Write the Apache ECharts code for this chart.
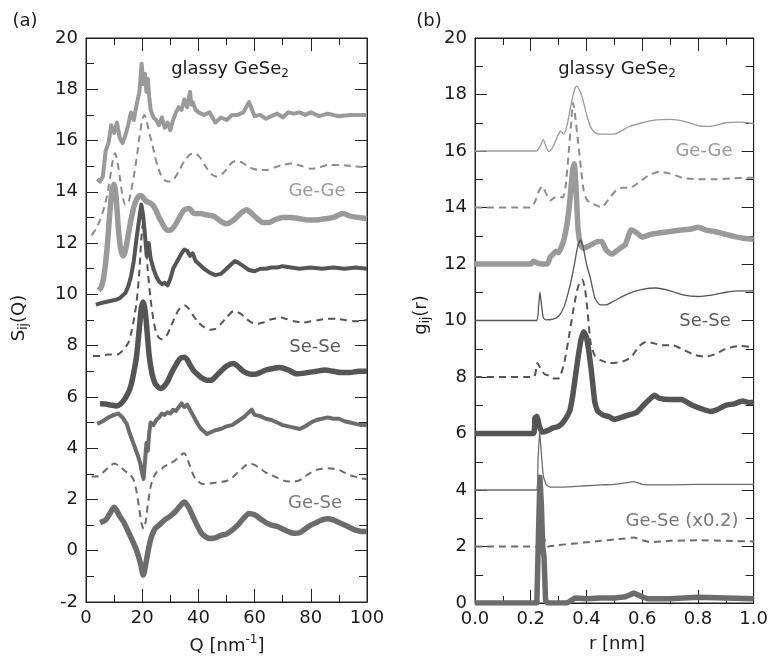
<!DOCTYPE html>
<html><head><meta charset="utf-8">
<script src="https://cdn.jsdelivr.net/npm/echarts@6/dist/echarts.min.js"></script>
<style>html,body{margin:0;padding:0;background:#fff}#c{width:771px;height:659px}</style>
</head><body><div id="c"></div>
<script>
// ---------- Panel (a): S_ij(Q) ----------
const qGeGeExp = [4,5,6,7,8,9,10,11,12,13,14,15,16,17,18,19,19.8,20.3,21,21.5,22,22.5,23,24,25,26,27,28,29,30,31,32,33,34,35,36,37,37.5,38,39,40,42,44,46,48,50,52,54,56,57,58,60,62,64,66,68,70,72,74,76,78,80,83,86,90,94,97,100];
const sGeGeExp = [14.5,14.4,14.6,15.6,15.9,16.6,16.3,16.7,16.1,15.9,16.2,16.6,17.1,16.8,17.4,17.9,19.0,18.2,18.6,17.9,18.4,17.7,17.2,16.9,16.8,16.6,16.9,16.5,16.7,16.4,16.8,17.1,17.3,17.2,17.6,17.3,17.9,17.4,17.5,17.2,17.1,17.0,17.1,16.7,16.9,16.8,17.0,17.0,17.1,17.3,17.5,16.95,17.0,16.85,16.95,17.05,16.9,17.1,17.05,17.1,17.0,17.1,16.95,17.05,16.95,17.0,17.0,17.0];
const qGeGeTh = [2,3.5,5,6.5,7.5,8.5,9.5,10.3,11,12,13,14,15,16,17,18,19,20,20.8,21.5,22.5,23.5,24.5,25.5,26.5,28,29.5,31,33,35,37,38.8,40.5,42.5,44.5,46.5,48.5,50.5,52,53.6,55.5,57.5,59.5,61.5,64,67,70,73.5,77,80,83,86,90,95,100];
const sGeGeTh = [12.3,12.55,12.9,13.4,13.85,14.5,15.2,15.5,15.3,14.6,13.85,13.5,13.55,14.0,14.6,15.3,16.1,16.8,17.0,16.8,16.3,15.9,15.4,15.0,14.7,14.45,14.4,14.45,14.8,15.2,15.45,15.5,15.35,15.0,14.7,14.6,14.7,14.95,15.15,15.2,15.15,15.0,14.9,14.85,14.85,14.95,15.05,15.1,15.0,14.9,14.95,15.05,15.05,15.0,14.95];
const qGeGeS = [4.5,5.5,6.5,7.5,8.5,9.3,10,10.7,11.5,12.3,13.2,14,15,16,17,18,19,19.8,20.8,22,23,24,25,26,27,28,29,30,31,32,33,34,35,36.7,38.5,40.5,43,45.5,48,50,52,54,55.5,57.2,59,61,63,65,67,70,73,76,79,82,85,88,91.5,94,97,100];
const sGeGeS = [10.15,10.3,10.8,11.8,13.2,14.1,14.3,13.8,12.6,11.8,11.5,11.7,12.3,12.9,13.4,13.7,13.85,13.85,13.7,13.6,13.55,13.45,13.25,13.0,12.8,12.6,12.5,12.5,12.6,12.75,12.95,13.15,13.3,13.35,13.15,13.15,13.1,13.05,12.85,12.75,12.85,13.05,13.2,13.3,13.15,12.95,12.8,12.8,12.9,13.0,13.0,12.95,12.9,12.9,12.95,13.0,13.15,13.05,13.0,12.95];
const qSeSeExp = [3.5,5,7,9,11,12,13,14,15,16,17,18,19,19.7,20.3,21,21.6,22.3,23,24,25,26,27,28,29,30,31,32,33,34,35,36,37,38,39,40,42,44,46,48,50,52,53,54,56,58,60,62,64,66,68,70,73,76,80,84,88,92,96,100];
const sSeSeExp = [9.6,9.65,9.7,9.75,9.8,9.85,9.95,10.05,10.3,10.7,11.3,12.2,13.0,13.5,13.1,12.3,11.5,12.0,11.4,11.0,10.7,10.5,10.4,10.45,10.35,10.6,11.0,11.2,11.4,11.6,11.75,11.7,11.5,11.6,11.3,11.2,11.0,10.85,10.75,10.8,11.0,11.2,11.3,11.25,11.1,10.95,10.9,11.0,11.0,11.05,11.05,11.1,11.05,11.0,11.05,11.0,11.05,11.0,11.05,11.0];
const qSeSeTh = [2.5,5,8,11,13,15,16,17,18,19,19.7,20.4,21.1,22,23,24,25,26,27,28,29,30,31,32,33,34,35.2,36.5,38,40,42,44,46,48,50,52.6,55,57,59,61,63,65,67,69,71,74,77,80,83,86,89,92,96,100];
const sSeSeTh = [7.6,7.6,7.65,7.65,7.8,8.1,8.45,9.0,9.7,10.9,12.2,12.8,12.2,10.9,9.8,9.0,8.5,8.3,8.25,8.3,8.45,8.7,8.95,9.2,9.4,9.52,9.57,9.45,9.2,8.9,8.72,8.62,8.65,8.85,9.1,9.35,9.25,9.05,8.9,8.85,8.9,9.0,9.05,9.1,9.05,8.95,8.9,8.95,9.0,9.05,9.05,9.0,8.95,9.0];
const qSeSeS = [5,7,9,11,13,15,16,17,18,19,19.7,20.4,21,21.7,22.5,23.5,24.5,25.5,26.5,27.5,29,30.5,32,33.5,35,36,37,38.5,40,41.5,43,44.5,46,48,50,52.4,54,56,58,60,62,64,66,69,72,75,79,82,85,88,91,94,97,100];
const sSeSeS = [5.73,5.72,5.68,5.65,5.8,6.15,6.45,6.95,7.6,8.7,9.5,9.7,9.4,8.6,7.6,6.9,6.55,6.4,6.33,6.38,6.6,6.95,7.25,7.5,7.55,7.45,7.25,7.0,6.85,6.72,6.65,6.65,6.78,7.0,7.2,7.3,7.2,7.0,6.9,6.88,6.95,7.05,7.1,7.15,7.05,6.9,6.95,7.0,7.05,7.0,6.95,6.95,7.0,7.0];
const qGeSeExp = [4,6,8,10,11.5,13,14.5,15.5,16.5,17.5,18.5,19.3,20,20.5,21,21.5,22,22.5,23,24,25,26,27,28,29,30,31,32,33,34,35,36,37,38,39,40,41,42,43,44,46,48,50,52,54,56,57,58,59,60,62,64,66,68,70,72,74,76,78,80,82,84,86,88,90,92,94,96,98,100];
const sGeSeExp = [4.95,5.05,5.2,5.3,5.35,5.2,4.95,4.6,4.3,4.0,3.7,3.4,3.0,2.8,3.5,4.2,3.9,4.6,5.0,4.9,5.1,5.2,5.35,5.3,5.4,5.35,5.5,5.45,5.6,5.75,5.6,5.7,5.5,5.3,5.1,4.9,4.75,4.65,4.55,4.6,4.7,4.75,4.85,4.9,5.05,5.2,5.3,5.4,5.5,5.3,5.25,5.15,5.1,5.0,4.9,4.85,4.8,4.75,4.85,5.0,5.1,5.15,5.2,5.15,5.15,5.05,5.0,4.95,4.9,4.9];
const qGeSeTh = [2,4,6,8,10,12,14,15.5,17,18,19,19.8,20.5,21.2,22,23,24,25,26,27,28,30,32,34,35,36,37,38,39,40,41,42,44,46,48,50,52,54,56,58,60,62,64,66,68,70,72,74,76,78,80,82,84,86,88,90,92,94,96,98,100];
const sGeSeTh = [2.9,2.9,3.05,3.25,3.4,3.3,3.1,3.0,2.75,2.3,1.6,1.05,0.85,1.1,1.8,2.5,2.85,3.05,3.15,3.2,3.3,3.4,3.55,3.75,3.8,3.6,3.3,3.0,2.8,2.7,2.62,2.6,2.62,2.65,2.68,2.72,2.85,3.05,3.25,3.4,3.35,3.2,3.05,2.95,2.85,2.75,2.7,2.7,2.75,2.9,3.05,3.15,3.2,3.22,3.2,3.15,3.05,2.95,2.88,2.82,2.8];
const qGeSeS = [5,7,8.5,10,11,12,13.5,15,16.5,17.5,18.5,19.5,20.4,21.3,22.3,23.3,24.5,26,28,30,32,33.5,35,36.5,38,39.5,41,42.5,44,46,48,50,52,54,56,58,60,62,64,66,68,70,72,74,76,78,80,82,84,86,88,90,92,94,96,98,100];
const sGeSeS = [1.1,1.2,1.45,1.7,1.55,1.35,1.1,0.75,0.4,0.15,-0.15,-0.55,-0.95,-0.5,0.1,0.55,0.85,1.0,1.2,1.35,1.55,1.75,1.9,1.7,1.35,1.0,0.7,0.55,0.48,0.5,0.6,0.65,0.8,1.0,1.25,1.45,1.4,1.25,1.1,1.0,0.95,0.85,0.75,0.68,0.7,0.85,1.0,1.1,1.2,1.25,1.2,1.1,1.0,0.9,0.8,0.75,0.75];

// ---------- Panel (b): g_ij(r) ----------
const rGeGeThin = [0,0.22,0.235,0.245,0.255,0.265,0.28,0.295,0.307,0.318,0.33,0.34,0.35,0.36,0.366,0.375,0.385,0.4,0.415,0.43,0.45,0.5,0.55,0.6,0.65,0.7,0.75,0.8,0.83,0.86,0.9,0.95,1.0];
const gGeGeThin = [16.0,16.0,16.2,16.4,16.15,15.98,16.15,16.5,16.7,16.6,16.9,17.4,17.9,18.25,18.3,18.15,17.9,17.3,16.85,16.65,16.6,16.6,16.85,17.0,17.1,17.12,17.05,16.9,16.87,16.9,17.0,17.02,16.97];
const rGeGeDash = [0,0.2,0.215,0.23,0.242,0.255,0.27,0.285,0.3,0.315,0.325,0.335,0.345,0.352,0.36,0.37,0.38,0.39,0.4,0.414,0.43,0.454,0.48,0.508,0.53,0.556,0.59,0.625,0.662,0.7,0.745,0.8,0.86,0.92,0.98,1.0];
const gGeGeDash = [14.0,14.0,14.2,14.6,14.75,14.5,14.25,14.35,14.4,14.35,14.75,15.8,17.0,17.7,17.2,16.3,15.4,14.6,14.3,14.15,14.1,14.0,14.3,14.62,14.7,14.7,14.9,15.15,15.27,15.2,15.05,15.0,15.0,15.03,15.05,15.05];
const rGeGeThick = [0,0.2,0.21,0.22,0.24,0.26,0.27,0.28,0.29,0.3,0.31,0.32,0.33,0.34,0.35,0.356,0.362,0.37,0.38,0.39,0.4,0.42,0.44,0.455,0.47,0.49,0.5,0.52,0.54,0.56,0.58,0.6,0.63,0.66,0.7,0.74,0.78,0.8,0.83,0.86,0.9,0.94,0.97,1.0];
const gGeGeThick = [12.0,12.0,12.1,12.05,12.0,12.0,12.25,12.35,12.45,12.4,12.6,12.9,13.4,14.2,15.3,15.55,14.8,13.2,12.65,12.55,12.6,12.7,12.8,12.8,12.5,12.35,12.4,12.55,12.7,13.2,13.1,12.95,13.05,13.1,13.15,13.2,13.25,13.3,13.2,13.15,13.05,12.95,12.9,12.88];
const rSeSeThin = [0,0.22,0.228,0.233,0.238,0.245,0.255,0.28,0.3,0.32,0.34,0.355,0.368,0.378,0.388,0.4,0.414,0.43,0.45,0.47,0.5,0.55,0.6,0.65,0.7,0.75,0.8,0.85,0.9,0.95,1.0];
const gSeSeThin = [10.0,10.0,10.5,11.0,10.6,10.1,10.02,10.05,10.15,10.5,11.2,11.9,12.6,12.85,12.6,12.0,11.5,10.8,10.55,10.55,10.7,10.95,11.1,11.15,11.05,10.9,10.85,10.9,11.0,11.05,11.05];
const rSeSeDash = [0,0.21,0.224,0.235,0.25,0.265,0.28,0.3,0.32,0.34,0.355,0.37,0.385,0.395,0.405,0.415,0.43,0.45,0.48,0.5,0.53,0.56,0.59,0.615,0.64,0.67,0.71,0.75,0.79,0.826,0.86,0.9,0.95,1.0];
const gSeSeDash = [8.0,8.0,8.5,8.3,8.1,8.05,7.95,7.95,8.5,9.6,10.5,11.2,11.45,11.1,10.2,9.2,8.75,8.6,8.5,8.5,8.55,8.7,9.1,9.25,9.2,9.12,9.12,8.95,8.78,8.72,8.8,9.0,9.1,9.05];
const rSeSeThick = [0,0.21,0.215,0.222,0.23,0.24,0.26,0.28,0.3,0.32,0.34,0.35,0.36,0.37,0.38,0.39,0.4,0.41,0.42,0.43,0.44,0.46,0.48,0.5,0.52,0.55,0.58,0.6,0.62,0.644,0.66,0.7,0.74,0.78,0.82,0.845,0.87,0.9,0.93,0.96,0.98,1.0];
const gSeSeThick = [6.0,6.0,6.55,6.6,6.3,6.05,6.1,6.2,6.25,6.45,6.8,7.3,8.0,8.7,9.3,9.6,9.4,8.8,8.0,7.1,6.8,6.65,6.6,6.5,6.55,6.65,6.75,6.95,7.15,7.35,7.25,7.2,7.2,7.0,6.85,6.78,6.85,7.0,7.05,7.15,7.1,7.1];
const rGeSeThin = [0,0.22,0.226,0.232,0.238,0.245,0.255,0.27,0.3,0.35,0.4,0.45,0.5,0.54,0.57,0.6,0.65,0.7,0.8,0.9,1.0];
const gGeSeThin = [4.0,4.0,5.0,6.1,5.3,4.5,4.2,4.1,4.1,4.12,4.15,4.18,4.2,4.25,4.3,4.2,4.18,4.18,4.2,4.2,4.2];
const rGeSeDash = [0,0.22,0.227,0.233,0.24,0.248,0.26,0.3,0.35,0.4,0.45,0.5,0.54,0.57,0.6,0.63,0.7,0.8,0.9,1.0];
const gGeSeDash = [2.0,2.0,3.0,4.3,3.2,2.3,2.0,2.05,2.1,2.15,2.2,2.25,2.28,2.32,2.22,2.15,2.2,2.22,2.2,2.18];
const rGeSeThick = [0,0.222,0.228,0.233,0.238,0.243,0.248,0.253,0.26,0.3,0.33,0.35,0.36,0.4,0.45,0.5,0.54,0.57,0.6,0.62,0.7,0.8,0.9,1.0];
const gGeSeThick = [0,0,2.5,4.45,3.5,2.0,1.6,0.1,0,0,0,0.12,0.18,0.15,0.18,0.18,0.22,0.35,0.22,0.15,0.15,0.2,0.18,0.15];

const FONT = 'DejaVu Sans';
const C_GEGE = '#9a9a9a', C_GEGE_D = '#8c8c8c', C_SESE = '#555555', C_GESE = '#6c6c6c';
const AX = '#222';
const DASH = [7, 5];

function pts(xs, ys) { return xs.map((x, i) => [x, ys[i]]); }

function xAx(grid, min, max, interval, pos, showLabel, fmt) {
  return {
    type: 'value', gridIndex: grid, min, max, interval, position: pos,
    axisLine: { show: true, onZero: false, lineStyle: { color: AX, width: 1 } },
    axisTick: { show: true, inside: true, length: 13, lineStyle: { color: AX, width: 1 } },
    minorTick: { show: true, splitNumber: 2, length: 7, lineStyle: { color: AX, width: 1 } },
    splitLine: { show: false }, minorSplitLine: { show: false },
    axisLabel: { show: showLabel, fontFamily: FONT, fontSize: 18, color: '#1a1a1a', margin: 7,
      formatter: fmt, showMinLabel: true, showMaxLabel: true }
  };
}
function yAx(grid, min, max, interval, pos, showLabel) {
  return {
    type: 'value', gridIndex: grid, min, max, interval, position: pos,
    axisLine: { show: true, onZero: false, lineStyle: { color: AX, width: 1 } },
    axisTick: { show: true, inside: true, length: 12, lineStyle: { color: AX, width: 1 } },
    minorTick: { show: true, splitNumber: 2, length: 8, lineStyle: { color: AX, width: 1 } },
    splitLine: { show: false }, minorSplitLine: { show: false },
    axisLabel: { show: showLabel, fontFamily: FONT, fontSize: 18, color: '#1a1a1a', margin: 8,
      showMinLabel: true, showMaxLabel: true }
  };
}
function ser(name, xs, ys, grid, color, width, type, smooth) {
  return {
    name, type: 'line', xAxisIndex: grid * 2, yAxisIndex: grid * 2,
    data: pts(xs, ys), showSymbol: false, symbol: 'none', smooth: smooth || false,
    lineStyle: { color, width, type: type || 'solid', cap: 'butt', join: 'round' },
    emphasis: { disabled: true }, silent: true, animation: false, z: 3
  };
}
function txt(x, y, text, color, rich, rotation) {
  const st = { text, fill: color, fontFamily: FONT, fontSize: 18,
    align: 'center', verticalAlign: 'middle', textAlign: 'center', textVerticalAlign: 'middle' };
  if (rich) st.rich = rich;
  return { type: 'text', x, y, rotation: rotation || 0, style: st, z: 10, silent: true };
}
const richSub = {
  m: { fontFamily: FONT, fontSize: 18, lineHeight: 22, fill: '#1a1a1a', color: '#1a1a1a' },
  s: { fontFamily: FONT, fontSize: 12, lineHeight: 12, verticalAlign: 'bottom', fill: '#1a1a1a', color: '#1a1a1a' }
};
const richSup = {
  m: { fontFamily: FONT, fontSize: 18, lineHeight: 24, fill: '#1a1a1a', color: '#1a1a1a' },
  s: { fontFamily: FONT, fontSize: 12, lineHeight: 12, verticalAlign: 'top', fill: '#1a1a1a', color: '#1a1a1a' }
};

const chart = echarts.init(document.getElementById('c'), null, { renderer: 'canvas' });
chart.setOption({
  backgroundColor: '#fff',
  animation: false,
  grid: [
    { left: 86, top: 38, width: 281, height: 564, show: true, borderColor: AX, borderWidth: 1, backgroundColor: 'transparent' },
    { left: 475, top: 38, width: 282, height: 565, show: true, borderColor: AX, borderWidth: 1, backgroundColor: 'transparent' }
  ],
  xAxis: [
    xAx(0, 0, 100, 20, 'bottom', true),
    xAx(0, 0, 100, 20, 'top', false),
    xAx(1, 0, 1, 0.2, 'bottom', true, v => v.toFixed(1)),
    xAx(1, 0, 1, 0.2, 'top', false)
  ],
  yAxis: [
    yAx(0, -2, 20, 2, 'left', true),
    yAx(0, -2, 20, 2, 'right', false),
    yAx(1, 0, 20, 2, 'left', true),
    yAx(1, 0, 20, 2, 'right', false)
  ],
  series: [
    ser('GeGe theory', qGeGeTh, sGeGeTh, 0, C_GEGE_D, 2, DASH, 0.25),
    ser('GeGe exp', qGeGeExp, sGeGeExp, 0, C_GEGE, 4),
    ser('GeGe fit', qGeGeS, sGeGeS, 0, C_GEGE, 5.5, 'solid', 0.25),
    ser('SeSe theory', qSeSeTh, sSeSeTh, 0, C_SESE, 2, DASH, 0.25),
    ser('SeSe fit', qSeSeS, sSeSeS, 0, C_SESE, 5.5, 'solid', 0.25),
    ser('SeSe exp', qSeSeExp, sSeSeExp, 0, C_SESE, 4),
    ser('GeSe theory', qGeSeTh, sGeSeTh, 0, C_GESE, 2, DASH, 0.25),
    ser('GeSe fit', qGeSeS, sGeSeS, 0, C_GESE, 5.5, 'solid', 0.25),
    ser('GeSe exp', qGeSeExp, sGeSeExp, 0, C_GESE, 4),

    ser('g GeGe thin', rGeGeThin, gGeGeThin, 1, C_GEGE, 1.3, 'solid', 0.2),
    ser('g GeGe dash', rGeGeDash, gGeGeDash, 1, C_GEGE_D, 2, DASH, 0.2),
    ser('g GeGe thick', rGeGeThick, gGeGeThick, 1, C_GEGE, 5.5, 'solid', 0.15),
    ser('g SeSe thin', rSeSeThin, gSeSeThin, 1, C_SESE, 1.3, 'solid', 0.2),
    ser('g SeSe dash', rSeSeDash, gSeSeDash, 1, C_SESE, 2, DASH, 0.2),
    ser('g SeSe thick', rSeSeThick, gSeSeThick, 1, C_SESE, 5.5, 'solid', 0.15),
    ser('g GeSe thin', rGeSeThin, gGeSeThin, 1, C_GESE, 1.3, 'solid', 0.1),
    ser('g GeSe dash', rGeSeDash, gGeSeDash, 1, C_GESE, 2, DASH, 0.1),
    ser('g GeSe thick', rGeSeThick, gGeSeThick, 1, C_GESE, 5.5, 'solid', 0)
  ],
  graphic: [
    txt(25, 21, '(a)', '#1a1a1a'),
    txt(429, 21, '(b)', '#1a1a1a'),
    txt(230, 69, '{m|glassy GeSe}{s|2}', '#1a1a1a', richSub),
    txt(617, 69, '{m|glassy GeSe}{s|2}', '#1a1a1a', richSub),
    txt(317, 191, 'Ge-Ge', C_GEGE),
    txt(315, 347, 'Se-Se', '#5a5a5a'),
    txt(315, 503, 'Ge-Se', '#777777'),
    txt(704, 151, 'Ge-Ge', C_GEGE),
    txt(705, 321, 'Se-Se', '#5a5a5a'),
    txt(682, 521, 'Ge-Se (x0.2)', '#777777'),
    txt(227, 646, '{m|Q [nm}{s|-1}{m|]}', '#1a1a1a', richSup),
    txt(617, 644, 'r [nm]', '#1a1a1a'),
    txt(19, 318, '{m|S}{s|ij}{m|(Q)}', '#1a1a1a', richSub, Math.PI / 2),
    txt(421, 315, '{m|g}{s|ij}{m|(r)}', '#1a1a1a', richSub, Math.PI / 2)
  ]
});
</script></body></html>
